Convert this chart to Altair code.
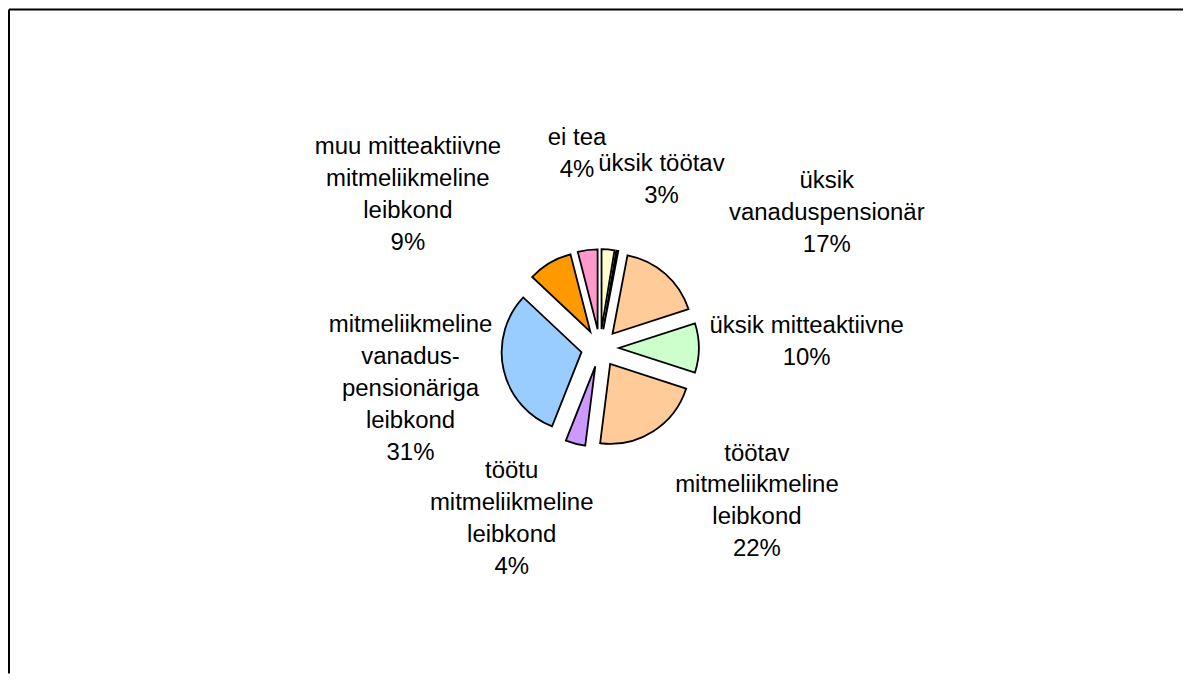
import altair as alt
import pandas as pd

# ---- data ----
CATEGORIES = [
    "üksik töötav",
    "üksik töötu",
    "üksik vanaduspensionär",
    "üksik mitteaktiivne",
    "töötav mitmeliikmeline leibkond",
    "töötu mitmeliikmeline leibkond",
    "mitmeliikmeline vanaduspensionäriga leibkond",
    "muu mitteaktiivne mitmeliikmeline leibkond",
    "ei tea",
]
VALUES = [2.6, 0.4, 17, 10, 22, 4, 31, 9, 4]
NAME_LINES = [
    ["üksik töötav"],
    [],
    ["üksik", "vanaduspensionär"],
    ["üksik mitteaktiivne"],
    ["töötav", "mitmeliikmeline", "leibkond"],
    ["töötu", "mitmeliikmeline", "leibkond"],
    ["mitmeliikmeline", "vanadus-", "pensionäriga", "leibkond"],
    ["muu mitteaktiivne", "mitmeliikmeline", "leibkond"],
    ["ei tea"],
]

# ---- styles / layout ----
COLORS = ["#FFFFCC", "#000000", "#FFCC99", "#CCFFCC", "#FFCC99",
          "#CC99FF", "#99CCFF", "#FF9900", "#FF99CC"]
W, H = 1176, 665
CX, CY = 592, 339        # pie centre
R = 80                   # pie radius
EXPLODE = 19             # explode distance
RX, RY = 215, 175        # label ring
LINE_H = 32
LABEL_NUDGE = {          # manual label moves (like dragged labels)
    "üksik töötav": (44, 6),
    "üksik vanaduspensionär": (85, -4),
    "üksik mitteaktiivne": (-8, -6),
    "töötav mitmeliikmeline leibkond": (42, 6),
    "töötu mitmeliikmeline leibkond": (-35, 2),
    "mitmeliikmeline vanaduspensionäriga leibkond": (20, 3),
    "muu mitteaktiivne mitmeliikmeline leibkond": (-83, -3),
    "ei tea": (4, -21),
}

total = sum(VALUES)
lines = []
for names, v in zip(NAME_LINES, VALUES):
    pct = round(v / total * 100)
    lines.append(names + [f"{pct}%"] if names else [])

df = pd.DataFrame({
    "order": list(range(len(CATEGORIES))),
    "category": CATEGORIES,
    "value": VALUES,
    "lines": lines,
    "nx": [LABEL_NUDGE.get(c, (0, 0))[0] for c in CATEGORIES],
    "ny": [LABEL_NUDGE.get(c, (0, 0))[1] for c in CATEGORIES],
})

base = (
    alt.Chart(df)
    .transform_joinaggregate(total="sum(value)")
    .transform_window(cum="sum(value)", sort=[alt.SortField("order")], frame=[None, 0])
    .transform_calculate(
        t0="(datum.cum - datum.value) / datum.total * 2 * PI",
        t1="datum.cum / datum.total * 2 * PI",
    )
    .transform_calculate(mid="(datum.t0 + datum.t1) / 2")
    .transform_calculate(
        cx=f"{CX} + {EXPLODE} * sin(datum.mid)",
        cy=f"{CY} - {EXPLODE} * cos(datum.mid)",
        lx=f"{CX} + {RX} * sin(datum.mid) + datum.nx",
        ly=f"{CY} - {RY} * cos(datum.mid) + datum.ny - (length(datum.lines) - 1) * {LINE_H} / 2",
    )
)

arcs = base.mark_arc(radius=R, stroke="black", strokeWidth=1.8).encode(
    theta=alt.Theta("t0:Q", scale=None, stack=None),
    theta2=alt.Theta2("t1:Q"),
    x=alt.X("cx:Q", scale=None, axis=None),
    y=alt.Y("cy:Q", scale=None, axis=None),
    color=alt.Color("category:N", scale=alt.Scale(domain=CATEGORIES, range=COLORS), legend=None),
)

labels = (
    base.transform_filter("length(datum.lines) > 0")
    .mark_text(font="Liberation Sans", fontSize=24, lineHeight=LINE_H,
               align="center", baseline="middle", color="black")
    .encode(
        x=alt.X("lx:Q", scale=None, axis=None),
        y=alt.Y("ly:Q", scale=None, axis=None),
        text="lines",
    )
)

one = pd.DataFrame({"a": [0]})
border_top = alt.Chart(one).mark_rule(color="black", strokeWidth=2).encode(
    x=alt.value(0), x2=alt.value(W), y=alt.value(0))
border_left = alt.Chart(one).mark_rule(color="black", strokeWidth=2).encode(
    x=alt.value(0), y=alt.value(0), y2=alt.value(H))

chart = (
    alt.layer(border_top, border_left, arcs, labels)
    .properties(width=W, height=H, padding=0)
    .configure_view(stroke=None)
)

chart.save("out.html", embed_options={"renderer": "svg", "actions": False})
